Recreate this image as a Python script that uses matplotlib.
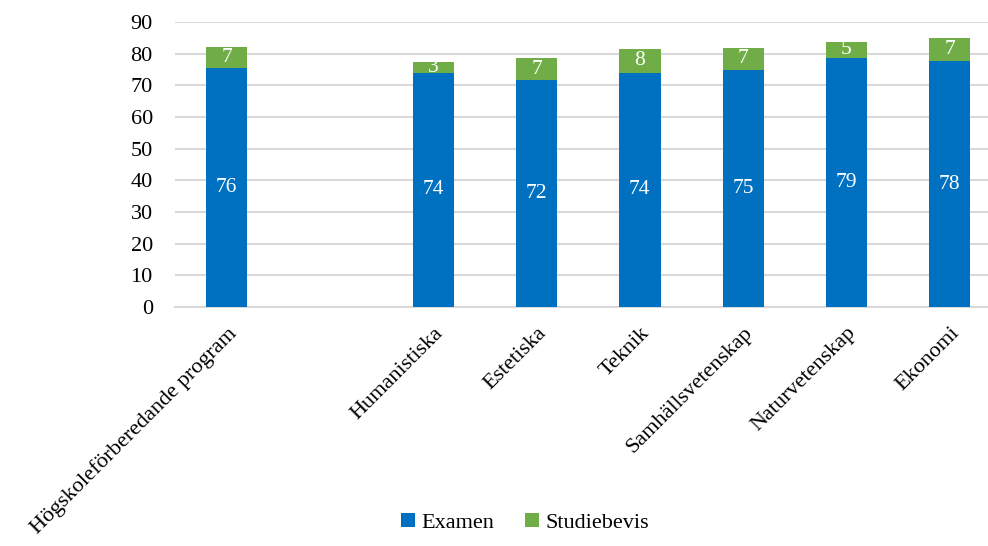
import numpy as np
from matplotlib import pyplot as plt

# kategorier (tom plats mellan första stapeln och resten)
categories = ["Högskoleförberedande program", "", "Humanistiska", "Estetiska",
              "Teknik", "Samhällsvetenskap", "Naturvetenskap", "Ekonomi"]
examen = [75.6, np.nan, 74.0, 71.6, 73.9, 74.9, 78.6, 77.6]
studiebevis = [6.6, np.nan, 3.4, 7.1, 7.6, 7.0, 5.2, 7.4]

blue = "#0070C0"
green = "#70AD47"

plt.rcParams["font.family"] = ["Liberation Serif", "DejaVu Serif"]

fig = plt.figure(figsize=(9.88, 5.46), dpi=100)
ax = fig.add_axes([175 / 988, 1 - 307 / 546, 813 / 988, 285 / 546])

x = np.arange(len(categories))
b1 = ax.bar(x, examen, width=0.4, color=blue, label="Examen", zorder=3)
b2 = ax.bar(x, studiebevis, width=0.4, bottom=examen, color=green,
            label="Studiebevis", zorder=3)

# dataetiketter i mitten av varje segment
for bars, vals, base in [(b1, examen, [0] * len(examen)), (b2, studiebevis, examen)]:
    for rect, v, b in zip(bars, vals, base):
        if np.isnan(v):
            continue
        ax.text(rect.get_x() + rect.get_width() / 2, b + v / 2, f"{v:.0f}",
                ha="center", va="center", color="white", fontsize=15.5, zorder=4)

ax.set_ylim(0, 90)
ax.set_yticks(range(0, 91, 10))
ax.set_xlim(-0.5, 7.37)
ax.set_xticks(x)
ax.set_xticklabels(categories, rotation=45, ha="right", rotation_mode="anchor")
ax.tick_params(axis="both", length=0)
ax.tick_params(axis="y", pad=16, labelsize=16)
ax.tick_params(axis="x", pad=12, labelsize=16)
ax.yaxis.grid(True, color="#D9D9D9", linewidth=1.5, zorder=0)
for s in ["top", "right", "left"]:
    ax.spines[s].set_visible(False)
ax.spines["bottom"].set_color("#D9D9D9")
ax.spines["bottom"].set_linewidth(1.5)

fig.legend(handles=[b1, b2], labels=["Examen", "Studiebevis"], loc="center",
           bbox_to_anchor=(525 / 988, 1 - 523 / 546), ncol=2, frameon=False,
           fontsize=16, handlelength=0.6, handleheight=0.6, handletextpad=0.3,
           columnspacing=1.4)

fig.savefig("out.png", dpi=100)
